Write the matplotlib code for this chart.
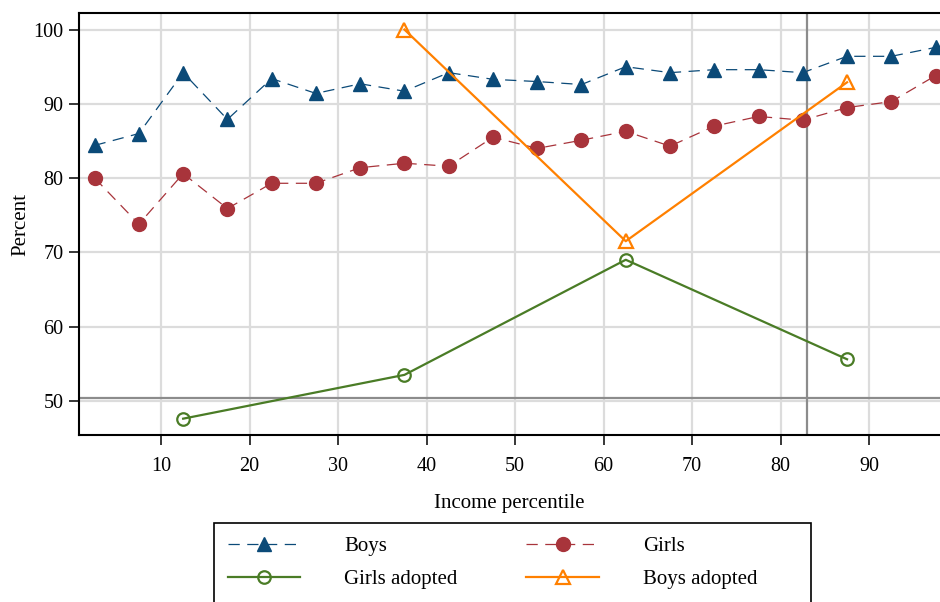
import matplotlib
matplotlib.use("Agg")
import matplotlib.pyplot as plt
from matplotlib.patches import Rectangle
import numpy as np

plt.rcParams['font.family'] = ['Liberation Serif', 'DejaVu Serif']

percentile = [2.5, 7.5, 12.5, 17.5, 22.5, 27.5, 32.5, 37.5, 42.5, 47.5,
              52.5, 57.5, 62.5, 67.5, 72.5, 77.5, 82.5, 87.5, 92.5, 97.5]
boys = [84.4, 86.0, 94.2, 87.9, 93.4, 91.4, 92.7, 91.7, 94.2, 93.3,
        93.0, 92.6, 95.0, 94.2, 94.6, 94.6, 94.2, 96.4, 96.4, 97.6]
girls = [80.0, 73.8, 80.6, 75.9, 79.3, 79.3, 81.4, 82.0, 81.6, 85.5,
         84.0, 85.1, 86.3, 84.3, 87.0, 88.3, 87.8, 89.5, 90.3, 93.8]
adopted_x = [12.5, 37.5, 62.5, 87.5]
girls_adopted = [47.6, 53.5, 69.0, 55.6]
boys_adopted_x = [37.5, 62.5, 87.5]
boys_adopted = [100.0, 71.5, 92.9]
ref_x = 83.0
ref_y = 50.4
xticks = [10, 20, 30, 40, 50, 60, 70, 80, 90]
yticks = [50, 60, 70, 80, 90, 100]

c_boys = '#0b4a78'
c_girls = '#a8343b'
c_green = '#4a7c26'
c_orange = '#ff8000'

fig = plt.figure(figsize=(9.4, 6.02), dpi=100)
ax = fig.add_axes([0.084, 0.2774, 0.916, 0.7006])

ax.set_xlim(0.73, 98.0)
ax.set_ylim(45.4, 102.2)
ax.set_xticks(xticks)
ax.set_yticks(yticks)
ax.grid(True, color='#dcdcdc', linewidth=1.6, zorder=0)
ax.set_axisbelow(True)
ax.axvline(ref_x, color='#8c8c8c', linewidth=1.6, zorder=1)
ax.axhline(ref_y, color='#8c8c8c', linewidth=1.6, zorder=1)

l1, = ax.plot(percentile, boys, color=c_boys, linestyle=(0, (9, 6)), linewidth=0.9,
              marker='^', markersize=10, markerfacecolor=c_boys, markeredgecolor=c_boys,
              label='Boys', zorder=3)
l2, = ax.plot(percentile, girls, color=c_girls, linestyle=(0, (9, 6)), linewidth=0.9,
              marker='o', markersize=10, markerfacecolor=c_girls, markeredgecolor=c_girls,
              label='Girls', zorder=3)
l3, = ax.plot(adopted_x, girls_adopted, color=c_green, linewidth=1.6,
              marker='o', markersize=9, markerfacecolor='none', markeredgecolor=c_green,
              markeredgewidth=1.6, label='Girls adopted', zorder=3)
l4, = ax.plot(boys_adopted_x, boys_adopted, color=c_orange, linewidth=1.6,
              marker='^', markersize=10, markerfacecolor='none', markeredgecolor=c_orange,
              markeredgewidth=1.6, label='Boys adopted', zorder=3)

for s in ['left', 'bottom', 'top']:
    ax.spines[s].set_linewidth(1.5)
    ax.spines[s].set_color('black')
ax.spines['right'].set_visible(False)
ax.tick_params(axis='both', direction='out', length=7, width=1.1, labelsize=14.5,
               colors='black')
ax.tick_params(axis='x', pad=9)
ax.tick_params(axis='y', pad=4)

ax.set_xlabel('Income percentile', fontsize=15, labelpad=13)
ax.set_ylabel('Percent', fontsize=15, labelpad=2)

leg = fig.legend(handles=[l1, l3, l2, l4], ncol=2, loc='upper left',
                 bbox_to_anchor=(214/940, 1 - 523/602), fontsize=15,
                 frameon=False,
                 handlelength=3.5, handletextpad=2.1, columnspacing=3.3,
                 borderpad=0.65, labelspacing=0.65, borderaxespad=0)

box = Rectangle((214/940, -0.02), (811 - 214)/940, (602 - 523)/602 + 0.02,
                transform=fig.transFigure, fill=False, edgecolor='black',
                linewidth=1.2)
fig.patches.append(box)

fig.savefig('out.png', dpi=100)
